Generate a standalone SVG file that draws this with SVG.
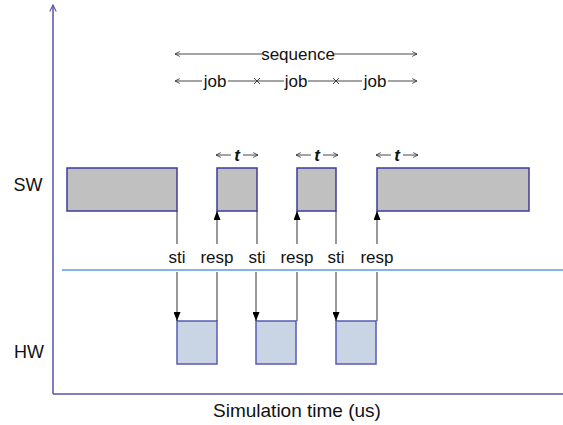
<svg xmlns="http://www.w3.org/2000/svg" width="563" height="425" viewBox="0 0 563 425">
  <style>
    .lbl { font-family: "Liberation Sans", Arial, sans-serif; font-size: 17px; fill: #111; }
    .row { font-size: 18px; }
    .axis { stroke: #5555aa; stroke-width: 1.5; fill: none; }
    .sw { fill: #c0c0c0; stroke: #3c3c9c; stroke-width: 1.5; }
    .hw { fill: #c9d5e5; stroke: #5a5ab4; stroke-width: 1.5; }
    .sig { stroke: #333; stroke-width: 1; fill: none; }
    .dim { stroke: #333; stroke-width: 0.9; fill: none; }
  </style>
  <defs>
    <marker id="solid" viewBox="0 0 9 7" refX="9" refY="3.5" markerWidth="9" markerHeight="7" markerUnits="userSpaceOnUse" orient="auto">
      <path d="M0,0 L9,3.5 L0,7 z" fill="#000"/>
    </marker>
    <marker id="open" viewBox="0 0 10 10" refX="9" refY="5" markerWidth="6" markerHeight="7" markerUnits="userSpaceOnUse" orient="auto-start-reverse">
      <path d="M1,1 L9,5 L1,9" fill="none" stroke="#333" stroke-width="1.4"/>
    </marker>
    <marker id="axhead" viewBox="0 0 10 10" refX="9" refY="5" markerWidth="8" markerHeight="8" markerUnits="userSpaceOnUse" orient="auto">
      <path d="M1,1 L9,5 L1,9" fill="none" stroke="#5555aa" stroke-width="1.4"/>
    </marker>
  </defs>

  <!-- axes -->
  <g id="axes">
    <line class="axis" x1="53" y1="394" x2="53" y2="5" marker-end="url(#axhead)"/>
    <line class="axis" x1="53" y1="394" x2="563" y2="394"/>
    <line x1="62" y1="270" x2="563" y2="270" stroke="#5b9be0" stroke-width="1.5"/>
  </g>

  <!-- row labels -->
  <text class="lbl row" x="28" y="191" text-anchor="middle">SW</text>
  <text class="lbl row" x="29" y="358" text-anchor="middle">HW</text>
  <text class="lbl" x="297" y="417" text-anchor="middle" style="font-size:19px">Simulation time (us)</text>

  <!-- software blocks -->
  <g id="sw1"><rect class="sw" x="67" y="168" width="110" height="43"/></g>
  <g id="sw2"><rect class="sw" x="217" y="168" width="40" height="43"/></g>
  <g id="sw3"><rect class="sw" x="297" y="168" width="39" height="43"/></g>
  <g id="sw4"><rect class="sw" x="377" y="168" width="152" height="43"/></g>

  <!-- hardware blocks -->
  <g id="hw1"><rect class="hw" x="177" y="321" width="40" height="43"/></g>
  <g id="hw2"><rect class="hw" x="256" y="321" width="40" height="43"/></g>
  <g id="hw3"><rect class="hw" x="336" y="321" width="40" height="43"/></g>

  <!-- sti / resp signals -->
  <g id="connectors">
    <line class="sig" x1="177" y1="211" x2="177" y2="244"/>
    <line class="sig" x1="177" y1="272" x2="177" y2="321" marker-end="url(#solid)"/>
    <line class="sig" x1="217" y1="321" x2="217" y2="272"/>
    <line class="sig" x1="217" y1="244" x2="217" y2="211" marker-end="url(#solid)"/>

    <line class="sig" x1="257" y1="211" x2="257" y2="244"/>
    <line class="sig" x1="256" y1="272" x2="256" y2="321" marker-end="url(#solid)"/>
    <line class="sig" x1="297" y1="321" x2="297" y2="272"/>
    <line class="sig" x1="297" y1="244" x2="297" y2="211" marker-end="url(#solid)"/>

    <line class="sig" x1="336" y1="211" x2="336" y2="244"/>
    <line class="sig" x1="336" y1="272" x2="336" y2="321" marker-end="url(#solid)"/>
    <line class="sig" x1="377" y1="321" x2="377" y2="272"/>
    <line class="sig" x1="377" y1="244" x2="377" y2="211" marker-end="url(#solid)"/>
  </g>

  <g id="signal-labels" class="lbl" text-anchor="middle">
    <text x="177" y="263">sti</text>
    <text x="217" y="263">resp</text>
    <text x="257" y="263">sti</text>
    <text x="297" y="263">resp</text>
    <text x="336" y="263">sti</text>
    <text x="377" y="263">resp</text>
  </g>

  <!-- sequence dimension -->
  <g id="sequence">
    <line class="dim" x1="262" y1="54" x2="175" y2="54" marker-end="url(#open)"/>
    <line class="dim" x1="334" y1="54" x2="417" y2="54" marker-end="url(#open)"/>
    <text class="lbl" x="298" y="60" text-anchor="middle">sequence</text>
  </g>

  <!-- job dimensions -->
  <g id="jobs">
    <line class="dim" x1="202" y1="81" x2="175" y2="81" marker-end="url(#open)"/>
    <line class="dim" x1="228" y1="81" x2="284" y2="81"/>
    <line class="dim" x1="308" y1="81" x2="362" y2="81"/>
    <line class="dim" x1="388" y1="81" x2="417" y2="81" marker-end="url(#open)"/>
    <path class="dim" d="M254,78 L260,84 M260,78 L254,84 M333,78 L339,84 M339,78 L333,84"/>
    <text class="lbl" x="215" y="87" text-anchor="middle">job</text>
    <text class="lbl" x="296" y="87" text-anchor="middle">job</text>
    <text class="lbl" x="375" y="87" text-anchor="middle">job</text>
  </g>

  <!-- t dimensions -->
  <g id="t-marks">
    <line class="dim" x1="231" y1="155" x2="216" y2="155" marker-end="url(#open)"/>
    <line class="dim" x1="243" y1="155" x2="258" y2="155" marker-end="url(#open)"/>
    <text class="lbl" x="237" y="161" text-anchor="middle" font-style="italic" font-weight="bold">t</text>
    <line class="dim" x1="311" y1="155" x2="296" y2="155" marker-end="url(#open)"/>
    <line class="dim" x1="323" y1="155" x2="338" y2="155" marker-end="url(#open)"/>
    <text class="lbl" x="317" y="161" text-anchor="middle" font-style="italic" font-weight="bold">t</text>
    <line class="dim" x1="391" y1="155" x2="376" y2="155" marker-end="url(#open)"/>
    <line class="dim" x1="403" y1="155" x2="418" y2="155" marker-end="url(#open)"/>
    <text class="lbl" x="397" y="161" text-anchor="middle" font-style="italic" font-weight="bold">t</text>
  </g>
</svg>
